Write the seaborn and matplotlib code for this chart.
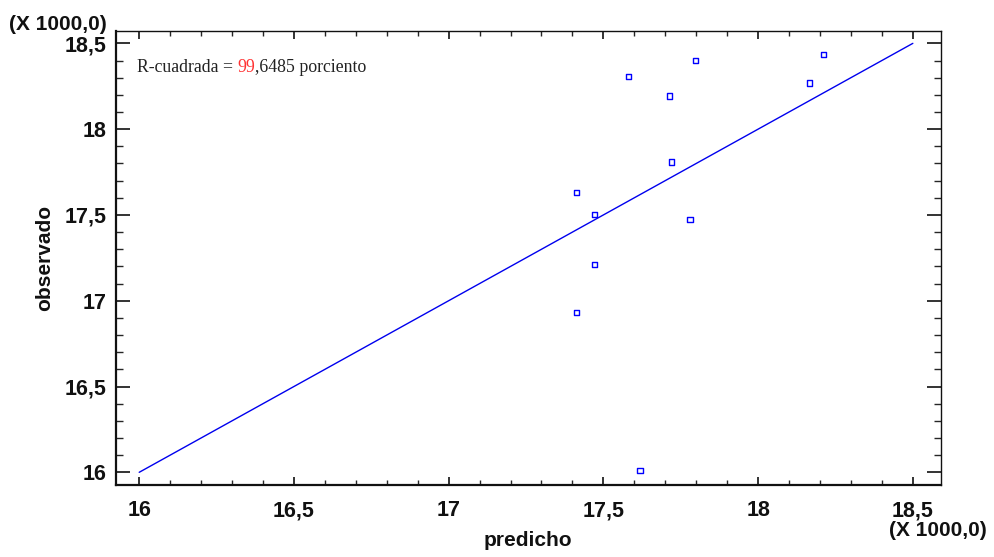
import matplotlib
matplotlib.use("Agg")
import matplotlib.pyplot as plt
import seaborn as sns
import pandas as pd
import numpy as np
from matplotlib.ticker import MultipleLocator, FuncFormatter

sns.set_theme(style="white")
plt.rcParams['font.family'] = ['Liberation Sans', 'DejaVu Sans']

# Data (values in units; axes shown x1000)
predicho = [17412, 17470, 17470, 17412, 17580, 17714, 17719, 17780, 17798, 18165, 18210, 17618]
observado = [17633, 17503, 17212, 16932, 18305, 18193, 17808, 17472, 18399, 18269, 18436, 16012]
line_x = [16000, 18500]
line_y = [16000, 18500]
r2_label = ["R-cuadrada = ", "99", ",6485 porciento"]

df = pd.DataFrame({"predicho": predicho, "observado": observado})
ldf = pd.DataFrame({"x": line_x, "y": line_y})

fig = plt.figure(figsize=(9.95, 5.57), dpi=100)
ax = fig.add_axes([116/995, 1-485/557, (941-116)/995, (485-31)/557])

sns.lineplot(data=ldf, x="x", y="y", ax=ax, color="#0000ee", linewidth=1.0)
sns.scatterplot(data=df, x="predicho", y="observado", ax=ax, marker="s", s=14,
                facecolors="none", edgecolor="#0000ff", linewidth=1.0)

ax.set_xlim(15925, 18591)
ax.set_ylim(15926, 18572)

fmt = FuncFormatter(lambda v, p: (f"{v/1000:g}").replace(".", ","))
ax.xaxis.set_major_locator(MultipleLocator(500))
ax.xaxis.set_minor_locator(MultipleLocator(100))
ax.yaxis.set_major_locator(MultipleLocator(500))
ax.yaxis.set_minor_locator(MultipleLocator(100))
ax.xaxis.set_major_formatter(fmt)
ax.yaxis.set_major_formatter(fmt)

ax.tick_params(axis="x", which="major", direction="in", length=6, width=1.2, top=True, bottom=True,
               pad=11, labelsize=15.5, colors="#111111")
ax.tick_params(axis="x", which="minor", direction="in", length=3.5, width=1.0, top=True, bottom=True)
ax.tick_params(axis="y", which="major", direction="in", length=10, width=1.2, left=True, right=True,
               pad=7, labelsize=15.5, colors="#111111")
ax.tick_params(axis="y", which="minor", direction="in", length=5, width=1.0, left=True, right=True)
for lab in ax.get_xticklabels() + ax.get_yticklabels():
    lab.set_fontweight("bold")

for side in ["left", "bottom"]:
    ax.spines[side].set_linewidth(1.6)
    ax.spines[side].set_color("#111111")
for side in ["top", "right"]:
    ax.spines[side].set_linewidth(1.0)
    ax.spines[side].set_color("#111111")

ax.set_xlabel("")
ax.set_ylabel("")
fig.text(528/995, 1-541/557, "predicho", ha="center", va="center", fontsize=15, fontweight="bold", color="#111111")
fig.text(45/995, 1-258/557, "observado", ha="center", va="center", rotation=90, fontsize=15,
         fontweight="bold", color="#111111")
fig.text(107/995, 1-24/557, "(X 1000,0)", ha="right", va="center", fontsize=15, fontweight="bold", color="#111111")
fig.text(987/995, 1-531/557, "(X 1000,0)", ha="right", va="center", fontsize=15, fontweight="bold", color="#111111")

serif = ['Liberation Serif', 'DejaVu Serif']
fs = 12.8
t1 = fig.text(137/995, 1-72/557, r2_label[0], ha="left", va="baseline", fontsize=fs, family=serif, color="#222222")
t2 = ax.annotate(r2_label[1], xycoords=t1, xy=(1, 0), va="bottom", ha="left", fontsize=fs, family=serif,
                 color="#ff3333")
t3 = ax.annotate(r2_label[2], xycoords=t2, xy=(1, 0), va="bottom", ha="left", fontsize=fs, family=serif,
                 color="#222222")

fig.savefig("out.png", dpi=100)
